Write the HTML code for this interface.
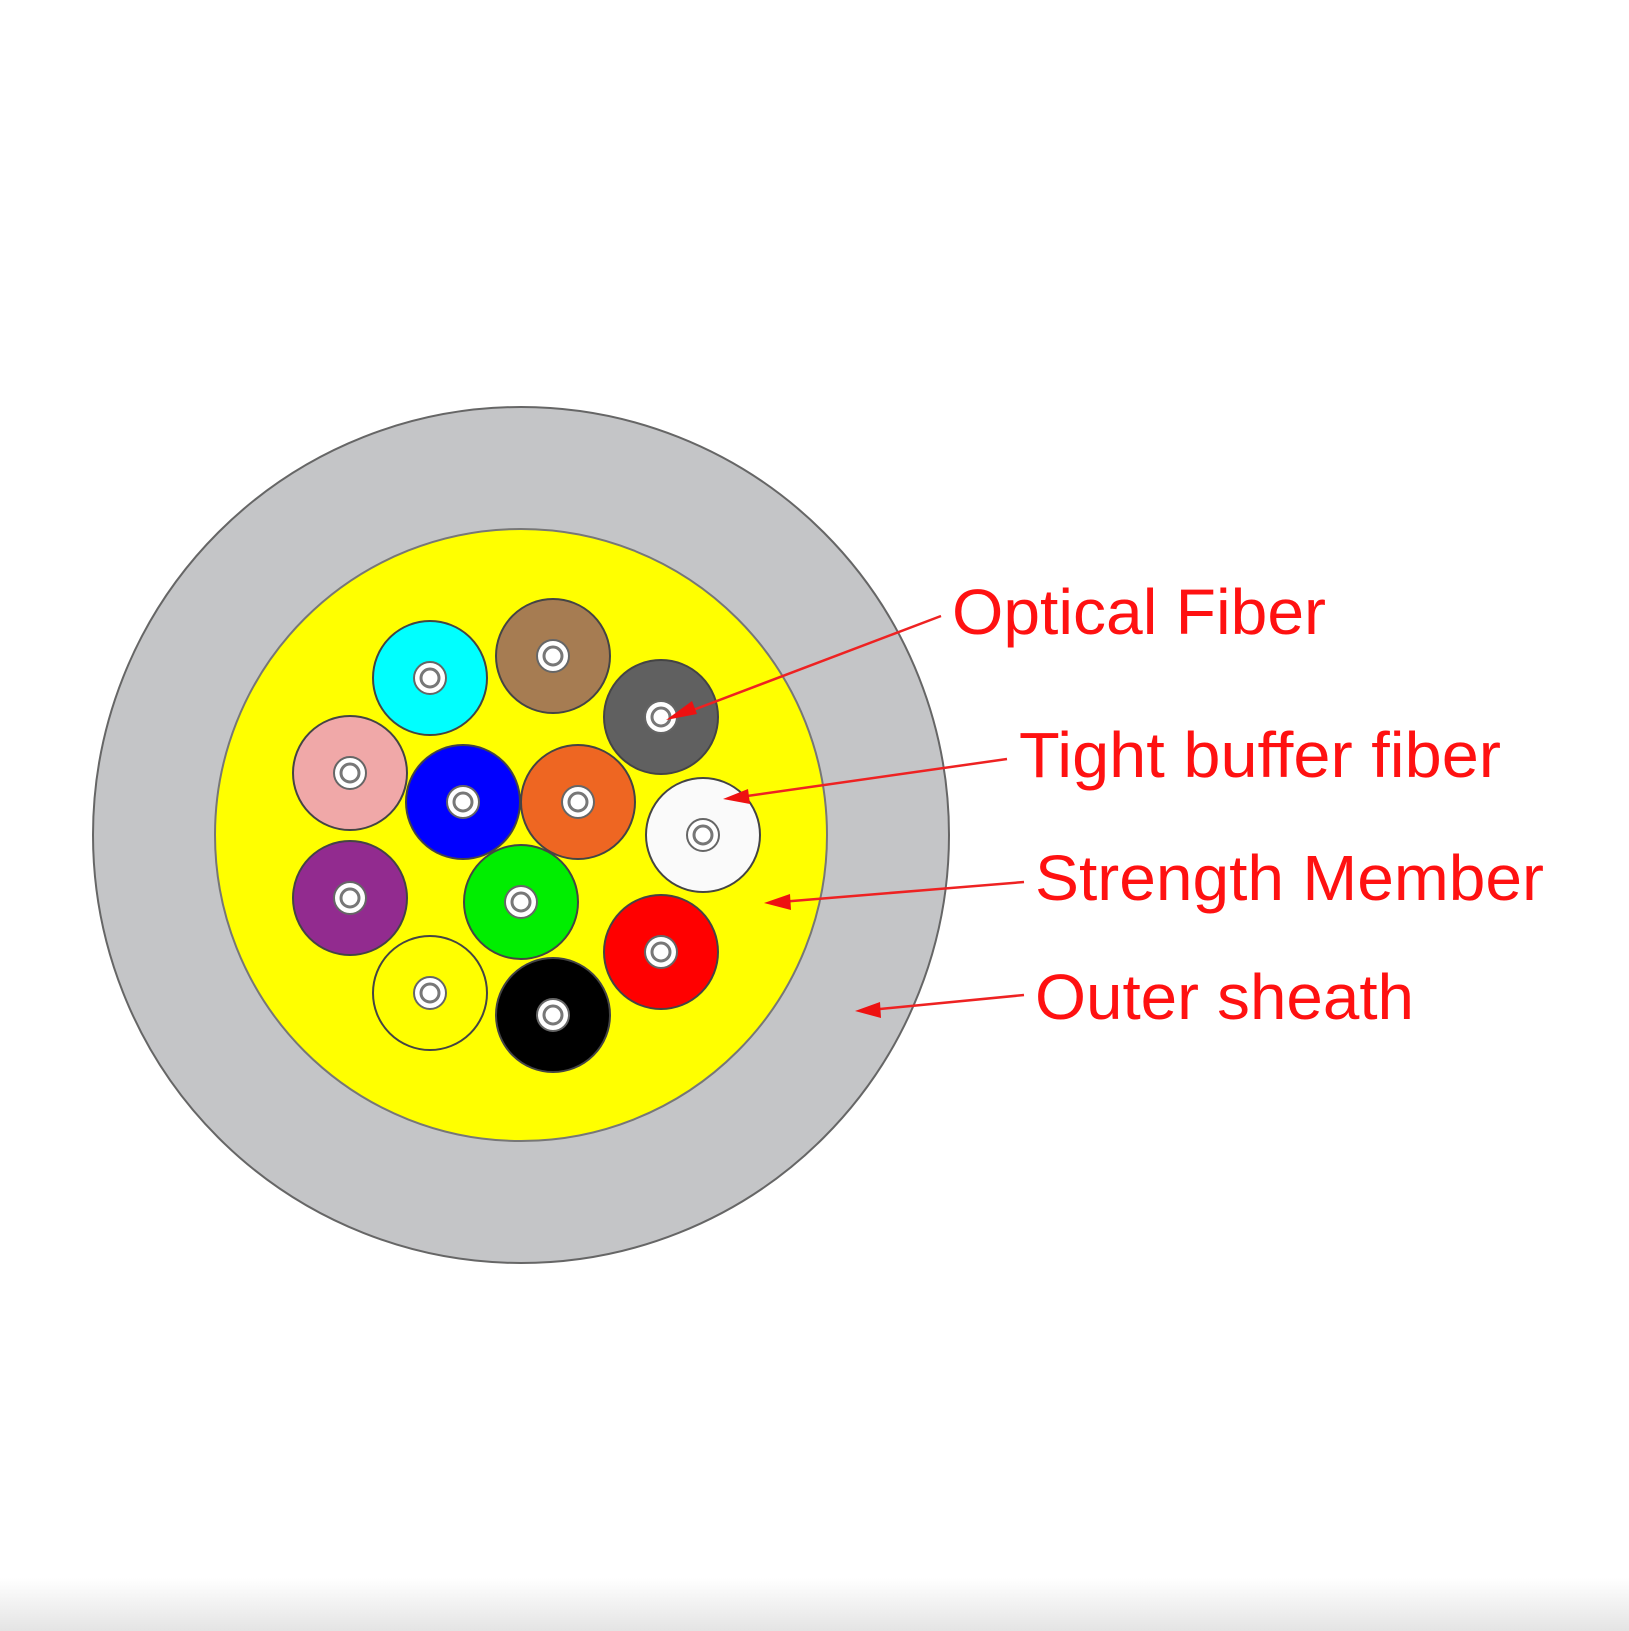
<!DOCTYPE html>
<html><head><meta charset="utf-8"><style>html,body{margin:0;padding:0;background:#fff}svg{display:block}</style></head><body>
<svg width="1629" height="1631" viewBox="0 0 1629 1631" xmlns="http://www.w3.org/2000/svg">
<defs>
<linearGradient id="bg" x1="0" y1="0" x2="0" y2="1"><stop offset="0" stop-color="#fff"/><stop offset="1" stop-color="#e4e4e4"/></linearGradient>
<g id="core"><circle r="16" fill="#fff" stroke="#666" stroke-width="2"/><circle r="9" fill="#fff" stroke="#777" stroke-width="3"/><circle r="3" fill="#fff"/></g>
</defs>
<rect x="0" y="0" width="1629" height="1631" fill="#fff"/>
<rect x="0" y="1578" width="1629" height="53" fill="url(#bg)"/>
<circle cx="521" cy="835" r="428" fill="#c4c5c7" stroke="#666" stroke-width="2"/>
<circle cx="521" cy="835" r="306" fill="#ffff00" stroke="#777" stroke-width="2"/>
<g stroke="#444" stroke-width="2">
<circle cx="430" cy="678" r="57" fill="#00ffff"/>
<circle cx="553" cy="656" r="57" fill="#a67c52"/>
<circle cx="661" cy="717" r="57" fill="#606060"/>
<circle cx="350" cy="773" r="57" fill="#f0a8a8"/>
<circle cx="463" cy="802" r="57" fill="#0000ff"/>
<circle cx="578" cy="802" r="57" fill="#ee6622"/>
<circle cx="703" cy="835" r="57" fill="#fafafa"/>
<circle cx="350" cy="898" r="57" fill="#922b8f"/>
<circle cx="521" cy="902" r="57" fill="#00ee00"/>
<circle cx="430" cy="993" r="57" fill="#ffff00"/>
<circle cx="553" cy="1015" r="57" fill="#000"/>
<circle cx="661" cy="952" r="57" fill="#ff0000"/>
</g>
<use href="#core" x="430" y="678"/><use href="#core" x="553" y="656"/><use href="#core" x="661" y="717"/>
<use href="#core" x="350" y="773"/><use href="#core" x="463" y="802"/><use href="#core" x="578" y="802"/>
<use href="#core" x="703" y="835"/><use href="#core" x="350" y="898"/><use href="#core" x="521" y="902"/>
<use href="#core" x="430" y="993"/><use href="#core" x="553" y="1015"/><use href="#core" x="661" y="952"/>
<g stroke="#ee2222" stroke-width="2.5" fill="#ee1111">
<line x1="941" y1="616" x2="680" y2="715"/>
<polygon points="666,720 692,701 697,714" stroke="none"/>
<line x1="1007" y1="759" x2="740" y2="797"/>
<polygon points="723,799 748,789 750,804" stroke="none"/>
<line x1="1024" y1="882" x2="780" y2="902"/>
<polygon points="764,903 790,894 791,910" stroke="none"/>
<line x1="1024" y1="995" x2="870" y2="1010"/>
<polygon points="855,1011 880,1002 881,1018" stroke="none"/>
</g>
<g font-family="Liberation Sans, sans-serif" font-size="64" fill="#ff1111">
<text x="952" y="634" textLength="374" lengthAdjust="spacingAndGlyphs">Optical Fiber</text>
<text x="1019" y="777" textLength="482" lengthAdjust="spacingAndGlyphs">Tight buffer fiber</text>
<text x="1035" y="900" textLength="509" lengthAdjust="spacingAndGlyphs">Strength Member</text>
<text x="1035" y="1019" textLength="379" lengthAdjust="spacingAndGlyphs">Outer sheath</text>
</g>
</svg>
</body></html>
